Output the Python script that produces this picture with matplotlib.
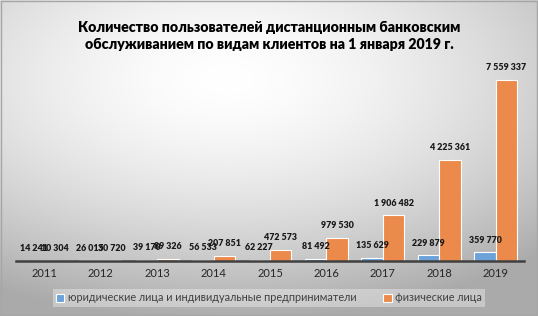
import numpy as np
import matplotlib
matplotlib.use('Agg')
import matplotlib.pyplot as plt

years = ['2011', '2012', '2013', '2014', '2015', '2016', '2017', '2018', '2019']
legal = [14241, 26015, 39170, 56533, 62227, 81492, 135629, 229879, 359770]
physical = [10304, 30720, 89326, 207851, 472573, 979530, 1906482, 4225361, 7559337]
legal_name = 'юридические лица и индивидуальные предприниматели'
physical_name = 'физические лица'
title = ('Количество пользователей дистанционным банковским\n'
         'обслуживанием по видам клиентов на 1 января 2019 г.')

plt.rcParams['font.family'] = ['Lato', 'DejaVu Sans']

fig = plt.figure(figsize=(5.38, 3.16), dpi=100)

# background gradient
bg = fig.add_axes([0, 0, 1, 1])
gx, gy = np.meshgrid(np.linspace(0, 1, 300), np.linspace(0, 1, 200))
r = np.sqrt(((gx - 0.42) / 1.0) ** 2 + ((gy - 0.25) / 0.9) ** 2)
shade = 1 - 0.33 * np.clip(r / 0.85, 0, 1) ** 1.6
bg.imshow(np.dstack([shade] * 3), extent=[0, 1, 0, 1], aspect='auto', origin='upper')
bg.set_xlim(0, 1)
bg.set_ylim(0, 1)
bg.axis('off')
bg.add_patch(plt.Rectangle((0.001, 0.002), 0.997, 0.995, fill=False, ec='#a6a6a6', lw=1))

ax = fig.add_axes([16 / 538, (316 - 261) / 316, 508 / 538, 201 / 316])
ax.patch.set_alpha(0)
x = np.arange(len(years))
w = 0.38
b1 = ax.bar(x - w / 2, legal, w, color='#6aa2d9', edgecolor='white', linewidth=0.8, label=legal_name)
b2 = ax.bar(x + w / 2, physical, w, color='#ec8a4b', edgecolor='white', linewidth=0.8, label=physical_name)

for bars in (b1, b2):
    for rect in bars:
        v = rect.get_height()
        ax.annotate(f'{v:,}'.replace(',', ' '), (rect.get_x() + rect.get_width() / 2, v),
                    xytext=(0, 5.5), textcoords='offset points', ha='center', va='bottom',
                    fontsize=6.4, fontweight='heavy', color='#1a1a1a')

ax.set_xlim(-0.5, len(years) - 0.5)
ax.set_ylim(0, 7559337 * 201 / 181)
ax.set_xticks(x)
ax.set_xticklabels(years, fontsize=8, color='#262626')
ax.tick_params(axis='x', length=0, pad=5)
ax.set_yticks([])
for s in ['top', 'right', 'left']:
    ax.spines[s].set_visible(False)
ax.spines['bottom'].set_color('#404040')
ax.spines['bottom'].set_linewidth(1.8)

fig.text(0.5, 0.885, title, ha='center', va='center', fontsize=10.2, fontweight='heavy',
         color='black', linespacing=1.35)

leg = fig.legend(loc='center', bbox_to_anchor=(0.5, 0.057), ncol=2, fontsize=7.8,
                 frameon=True, facecolor='white', framealpha=0.35, edgecolor='none',
                 fancybox=False, borderpad=0.3, handlelength=0.8, handleheight=0.8,
                 handletextpad=0.3, columnspacing=2.5)
for t in leg.get_texts():
    t.set_color('#404040')

plt.savefig('out.png', dpi=100)
